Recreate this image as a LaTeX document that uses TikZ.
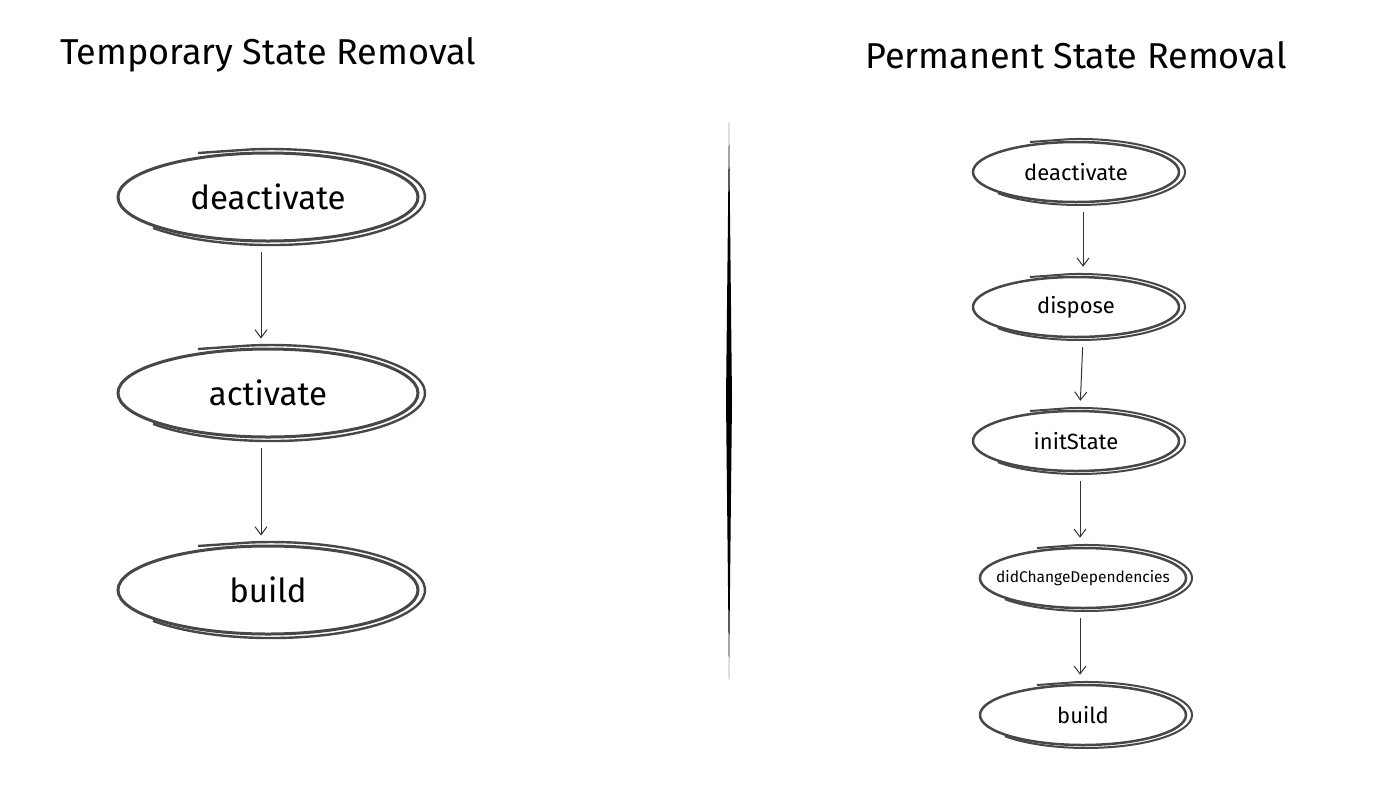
\documentclass[tikz,border=0pt]{standalone}
\usepackage{fontspec}
\setmainfont{Fira Sans}
\usetikzlibrary{shapes.geometric,arrows.meta}

\tikzset{
    oval/.style={ellipse, draw=sketchgray, line width=3pt, inner sep=0pt},
    bigoval/.style={oval, minimum width=300, minimum height=88, font=\fontsize{33}{36}\selectfont},
    smalloval/.style={oval, minimum width=206, minimum height=60, line width=2.5pt, font=\fontsize{22}{24}\selectfont},
    sketch/.style={draw=sketchgray, line width=2.4pt},
    flow/.style={->, draw=black!80, line width=1pt},
    title/.style={font=\fontsize{36}{40}\selectfont}
}
\definecolor{sketchgray}{HTML}{474747}

\begin{document}
\begin{tikzpicture}[x=1pt, y=-1pt, >={Straight Barb[length=8pt,width=12pt]}]

    \useasboundingbox (0,0) rectangle (1400,788);

    % titles
    \node[title] (ttitle) at (268,55) {Temporary State Removal};
    \node[title] (ptitle) at (1076,55) {Permanent State Removal};

    % divider
    \fill[black] (729,122) -- (732,400) -- (729,680) -- (726,400) -- cycle;

    % temporary removal
    \node[bigoval] (tdeact) at (268,197) {deactivate};
    \node[bigoval] (tact) at (268,393) {activate};
    \node[bigoval] (tbuild) at (268,590) {build};

    % permanent removal
    \node[smalloval] (pdeact) at (1076,172) {deactivate};
    \node[smalloval] (pdisp) at (1076,307) {dispose};
    \node[smalloval] (pinit) at (1076,441) {initState};
    \node[smalloval, inner xsep=-14pt, font=\fontsize{15.5}{18}\selectfont] (pdcd) at (1083,578) {didChangeDependencies};
    \node[smalloval] (pbuild) at (1083,715) {build};

    % second strokes
    \foreach \n in {tdeact,tact,tbuild} {
        \draw[sketch] ([shift={(-70,-44)}]\n.center) -- ++(51.6,-3.5)
            arc[start angle=262, end angle=500, x radius=154, y radius=48];
    }
    \foreach \n in {pdeact,pdisp,pinit,pdcd,pbuild} {
        \draw[sketch, line width=2pt] ([shift={(-46,-30)}]\n.center) -- ++(39.8,-2.9)
            arc[start angle=265, end angle=500, x radius=106, y radius=33];
    }

    % arrows
    \draw[flow, shorten <=9pt, shorten >=9pt] ([xshift=-7]tdeact.south) -- ([xshift=-7]tact.north);
    \draw[flow, shorten <=9pt, shorten >=9pt] ([xshift=-7]tact.south) -- ([xshift=-7]tbuild.north);

    \draw[flow, shorten <=9pt, shorten >=9pt] ([xshift=7]pdeact.south) -- ([xshift=7]pdisp.north);
    \draw[flow, shorten <=9pt, shorten >=9pt] ([xshift=7]pdisp.south) -- ([xshift=4]pinit.north);
    \draw[flow, shorten <=9pt, shorten >=9pt] ([xshift=4]pinit.south) -- ([xshift=-3]pdcd.north);
    \draw[flow, shorten <=9pt, shorten >=9pt] ([xshift=-3]pdcd.south) -- ([xshift=-3]pbuild.north);

\end{tikzpicture}
\end{document}
